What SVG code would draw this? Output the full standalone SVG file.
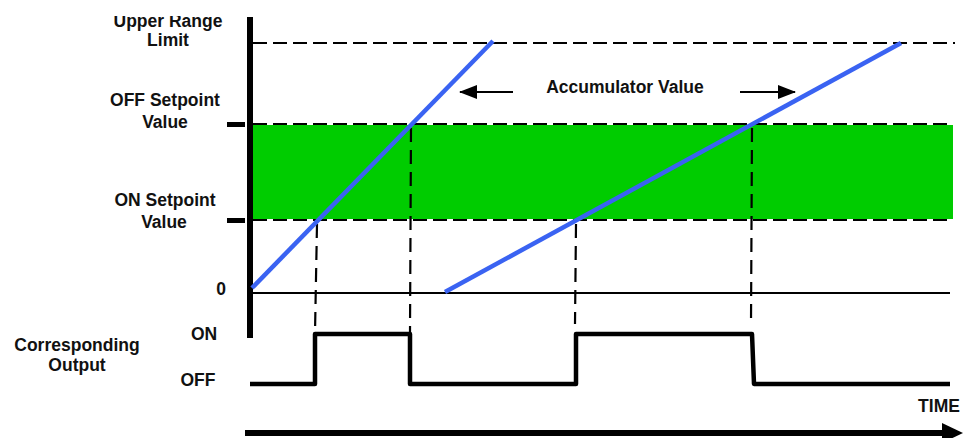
<svg xmlns="http://www.w3.org/2000/svg" width="964" height="438" viewBox="0 0 964 438">
<style>
text{font-family:"Liberation Sans",Arial,sans-serif;font-weight:bold;font-size:17.5px;fill:#111;text-anchor:middle}
.hd{stroke:#000;stroke-width:2;stroke-dasharray:14 6;fill:none}
.vd{stroke:#000;stroke-width:2.2;stroke-dasharray:14 8;fill:none}
.blue{stroke:#3a63f2;stroke-width:4.5;fill:none}
.wave{stroke:#000;stroke-width:4.5;fill:none;stroke-linejoin:round}
</style>
<defs>
<marker id="ah" markerWidth="18" markerHeight="14" refX="17" refY="7" orient="auto" markerUnits="userSpaceOnUse" viewBox="0 0 18 14"><path d="M0,0 L18,7 L0,14 Z" fill="#000"/></marker>
<clipPath id="topclip"><rect x="0" y="16" width="964" height="422"/></clipPath>
</defs>
<rect width="964" height="438" fill="#fff"/>
<g id="band">
<rect x="253" y="124" width="700" height="96" fill="#00cc00"/>
<line x1="253" y1="124" x2="953" y2="124" stroke="#fff" stroke-width="2"/>
<line x1="253" y1="220" x2="953" y2="220" stroke="#fff" stroke-width="2"/>
<line class="hd" x1="253" y1="124" x2="953" y2="124"/>
<line class="hd" x1="253" y1="220" x2="953" y2="220"/>
</g>
<g id="axes">
<line class="hd" x1="253" y1="43" x2="955" y2="43"/>
<line x1="253" y1="293" x2="950" y2="293" stroke="#000" stroke-width="2"/>
<rect x="247" y="17" width="6" height="321" fill="#000"/>
<rect x="227" y="122" width="18" height="5" fill="#000"/>
<rect x="227" y="218" width="18" height="5" fill="#000"/>
<line x1="245" y1="433" x2="944" y2="433" stroke="#000" stroke-width="6"/>
<polygon points="942,423 963,433 942,443" fill="#000"/>
</g>
<g id="connectors">
<line class="vd" x1="317" y1="224" x2="315" y2="333"/>
<line class="vd" x1="411" y1="128" x2="410" y2="333"/>
<line class="vd" x1="576" y1="224" x2="575" y2="324"/>
<line class="vd" x1="752" y1="128" x2="751" y2="324"/>
<line x1="513" y1="92" x2="460" y2="92" stroke="#000" stroke-width="2" marker-end="url(#ah)"/>
<line x1="740" y1="92" x2="795" y2="92" stroke="#000" stroke-width="2" marker-end="url(#ah)"/>
</g>
<g id="accumulator1"><line class="blue" x1="252" y1="288" x2="493" y2="41"/></g>
<g id="accumulator2"><line class="blue" x1="445" y1="292" x2="901" y2="43"/></g>
<g id="output"><path class="wave" d="M250,384 H315 V334 H410 V384 H576 V334 H752 L754,384 H950"/></g>
<g id="labels">
<text x="168" y="27" clip-path="url(#topclip)">Upper Range</text>
<text x="168" y="46">Limit</text>
<text x="165" y="106">OFF Setpoint</text>
<text x="165" y="128">Value</text>
<text x="165" y="206">ON Setpoint</text>
<text x="164" y="228">Value</text>
<text x="221" y="295">0</text>
<text x="77" y="351">Corresponding</text>
<text x="77" y="371">Output</text>
<text x="204" y="340">ON</text>
<text x="198" y="386">OFF</text>
<text x="625" y="93">Accumulator Value</text>
<text x="939" y="412">TIME</text>
</g>
</svg>
